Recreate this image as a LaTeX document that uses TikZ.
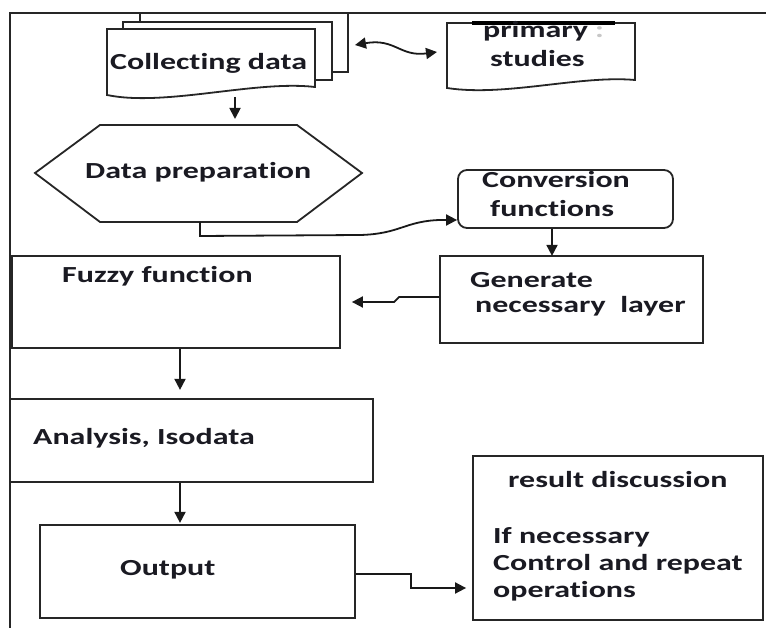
\documentclass[tikz,border=0pt]{standalone}
\usepackage{fontspec}
\newfontfamily\diagfont{Carlito}[FakeStretch=1.39, Ligatures=NoCommon]
\usetikzlibrary{arrows.meta}
\definecolor{ink}{HTML}{1A1A22}
\begin{document}
\begin{tikzpicture}[x=1pt,y=-1pt,
  shapeline/.style={draw=black!85, line width=1.8pt, fill=white},
  box/.style={shapeline, rectangle, inner sep=0pt},
  lbl/.style={font=\diagfont\bfseries\fontsize{23}{28}\selectfont, text=ink, inner sep=0pt, anchor=base west},
  conn/.style={line width=1.8pt, draw=black!90, -{Triangle[length=11pt,width=11pt]}},
]
\useasboundingbox (0,0) rectangle (766,628);
% outer frame
\draw[line width=1.8pt, black!85] (10,628) -- (10,13) -- (766,13);

% Collecting data (multi-document)
\draw[shapeline] (140,13) rectangle (348,72);
\draw[shapeline] (123,22) rectangle (332,80);
\draw[shapeline] (107,29) -- (315,29) -- (315,87) .. controls (255,80) and (165,107) .. (107,95) -- cycle;
\node[lbl] (collect) at (110,70) {Collecting data};
\coordinate (cdbottom) at (235,97);
\coordinate (cdright) at (355,45);

% primary studies (document)
\draw[shapeline] (447,23) -- (635,23) -- (635,80) .. controls (580,75) and (505,97) .. (447,88) -- cycle;
\draw[line width=3.5pt, black] (472,23) -- (615,23);
\node[lbl] (primary) at (483,38) {primary {\color{black!22}:}};
\node[lbl] (studies) at (490,67) {studies};
\coordinate (psleft) at (437,52);

% Data preparation (hexagon)
\draw[shapeline] (35,173) -- (100,125) -- (297,125) -- (362,173) -- (297,222) -- (100,222) -- cycle;
\node[lbl] (prep) at (85,179) {Data preparation};
\coordinate (hextop) at (235,125);
\coordinate (hexbottom) at (200,222);

% boxes
\node[box, rounded corners=9pt, minimum width=215pt, minimum height=58pt] (conv) at (565.5,199) {};
\node[lbl] (convt1) at (482,188) {Conversion};
\node[lbl] (convt2) at (490,217) {functions};

\node[box, minimum width=263pt, minimum height=87pt] (gen) at (571.5,299.5) {};
\node[lbl] (gent1) at (470,288) {Generate};
\node[lbl] (gent2) at (475,313) {necessary\ \ layer};

\node[box, minimum width=328pt, minimum height=92pt] (fuzzy) at (176,302) {};
\node[lbl] (fuzzyt) at (62,283) {Fuzzy function};

\node[box, minimum width=363pt, minimum height=83pt] (anal) at (191.5,440.5) {};
\node[lbl] (analt) at (33,444) {Analysis, Isodata};

\node[box, minimum width=315pt, minimum height=93pt] (out) at (197.5,571.5) {};
\node[lbl] (outt) at (120,575) {Output};

\node[box, minimum width=290pt, minimum height=164pt] (res) at (618,538) {};
\node[lbl] (rest1) at (508,487) {result discussion};
\node[lbl] (rest2) at (493,543) {If necessary};
\node[lbl] (rest3) at (493,570) {Control and repeat};
\node[lbl] (rest4) at (493,597) {operations};

% connectors
\draw[line width=1.8pt, draw=black!90, {Triangle[length=11pt,width=11pt]}-{Triangle[length=11pt,width=11pt]}]
  (cdright) .. controls (395,38) and (400,57) .. (psleft);
\draw[conn, shorten >=6pt] (cdbottom) -- (hextop);
\draw[conn] (hexbottom) -- (200,236) -- (360,235) .. controls (400,234) and (405,221) .. (440,220) -- ([yshift=-21pt]conv.west);
\draw[conn, shorten >=1pt] ([xshift=-13.5pt]conv.south) -- ++(0,28);
\draw[conn] ([yshift=2.5pt]gen.west) -- ++(-40,0) -- ++(-5,5) -- ([xshift=11pt]fuzzy.east);
\draw[conn, shorten >=10pt] ([xshift=4pt]fuzzy.south) -- ++(0,51);
\draw[conn, shorten >=3pt] ([xshift=-11.5pt]anal.south) -- ++(0,43);
\draw[conn, shorten >=6pt] ([yshift=-2.5pt]out.east) -- ++(55,0) -- ++(0,14) -- ([yshift=-50pt]res.west);
\end{tikzpicture}
\end{document}
